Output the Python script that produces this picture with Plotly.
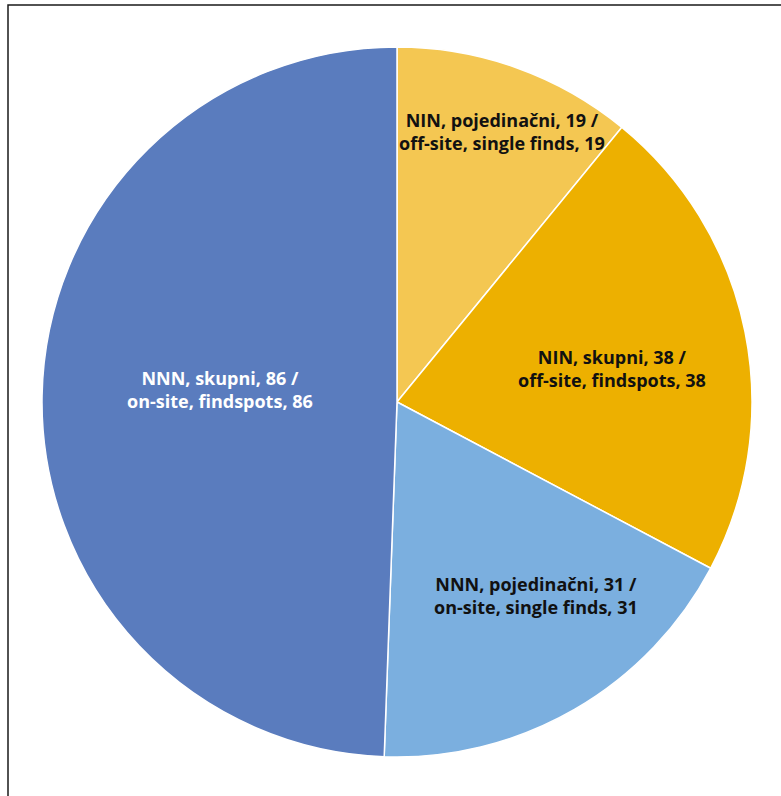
import plotly.graph_objects as go

labels = ["NIN, pojedinačni / off-site, single finds",
          "NIN, skupni / off-site, findspots",
          "NNN, pojedinačni / on-site, single finds",
          "NNN, skupni / on-site, findspots"]
texts = ["NIN, pojedinačni, 19 /<br>off-site, single finds, 19",
         "NIN, skupni, 38 /<br>off-site, findspots, 38",
         "NNN, pojedinačni, 31 /<br>on-site, single finds, 31",
         "NNN, skupni, 86 /<br>on-site, findspots, 86"]
values = [19, 38, 31, 86]
colors = ["#F4C752", "#EDB000", "#7BAFDF", "#5A7CBE"]
text_colors = ["#111111", "#111111", "#111111", "#FFFFFF"]

W, H = 781, 796
L, R, T, B = 42, 29, 47, 39

fig = go.Figure(go.Pie(
    labels=labels, values=values,
    textinfo="none",
    sort=False, direction="clockwise", rotation=0,
    marker=dict(colors=colors, line=dict(color="white", width=1.5)),
    hoverinfo="label+value", showlegend=False,
))

pw, ph = W - L - R, H - T - B
def px(x):
    return (x - L) / pw
def py(y):
    return (H - B - y) / ph

# label centres (pixels) in the page
label_pos = [(502, 132), (612, 369), (536, 595), (220, 389)]
for t, c, (lx, ly) in zip(texts, text_colors, label_pos):
    fig.add_annotation(x=px(lx), y=py(ly), xref="paper", yref="paper",
                       text=t, showarrow=False, xanchor="center", yanchor="middle",
                       align="center",
                       font=dict(family="Open Sans", size=18, color=c, weight=700))

fig.add_shape(type="rect", xref="paper", yref="paper",
              x0=px(8), x1=px(800), y0=py(820), y1=py(5),
              line=dict(color="#1a1a1a", width=1.5), layer="below")

fig.update_layout(width=W, height=H, margin=dict(l=L, r=R, t=T, b=B),
                  paper_bgcolor="white", plot_bgcolor="white")
fig.write_html("out.html")
